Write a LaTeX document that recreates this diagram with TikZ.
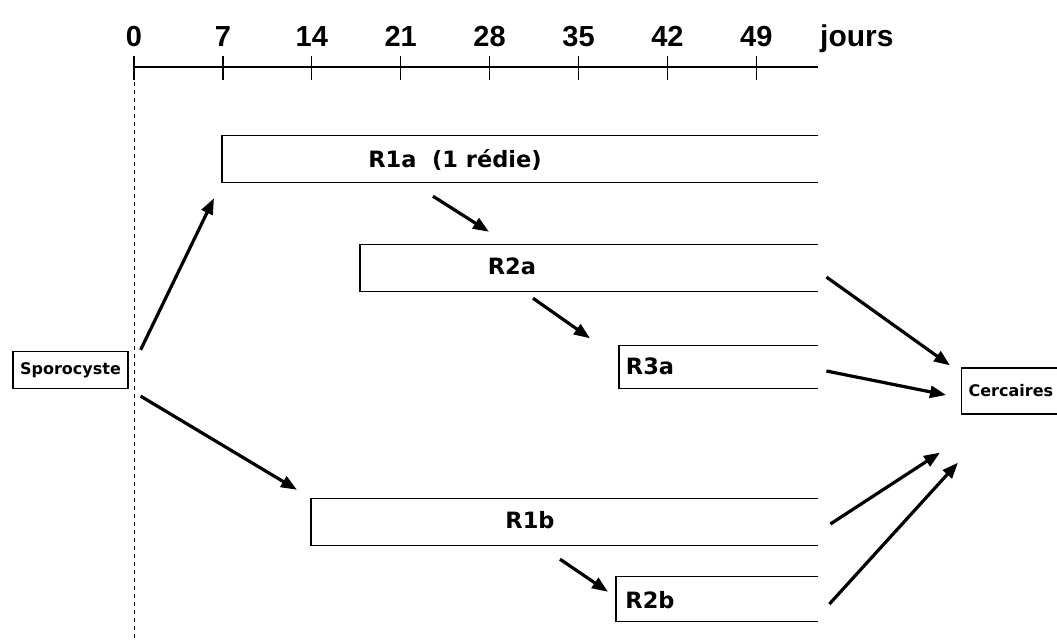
\documentclass[tikz,border=0pt]{standalone}
\usepackage{fontspec}
\setmainfont{Liberation Sans}
\newfontfamily\boxfont{DejaVu Sans}
\usetikzlibrary{positioning,arrows.meta,calc}

\begin{document}
\begin{tikzpicture}[x=1pt,y=-1pt,
  font=\bfseries\fontsize{29}{29}\selectfont,
  bar/.style={minimum height=46pt,inner sep=0pt,anchor=west},
  rlab/.style={font=\boxfont\bfseries\fontsize{22.5}{22.5}\selectfont,inner sep=0pt},
  box/.style={draw,line width=1.2pt,inner sep=0pt,font=\boxfont\bfseries\fontsize{16}{16}\selectfont},
  edge/.style={line width=1.2pt},
  a/.style={-{Triangle[length=16pt,width=12pt]},line width=3.2pt}]
\useasboundingbox (0,0) rectangle (1057,641);
% time axis
\draw[edge] (134,67) -- (818,67);
\foreach \d in {0,7,...,49}{
  \draw[edge] ({134+12.7*\d},56) -- ({134+12.7*\d},80);
  \node[anchor=base,inner sep=0pt] (t\d) at ({134+12.7*\d},46) {\d};}
\node[anchor=base west,inner sep=0pt,font=\bfseries\fontsize{30}{30}\selectfont] (jours) at (820,46) {jours};
\draw[line width=1pt,dash pattern=on 4pt off 4pt] (134,82) -- (134,641);
% redia bars, open on the right
\node[bar,minimum width=596pt] (r1a) at (222,159) {};
\node[bar,minimum width=458pt] (r2a) at (360,268) {};
\node[bar,minimum width=199pt,minimum height=43pt] (r3a) at (619,367) {};
\node[bar,minimum width=507pt] (r1b) at (311,522) {};
\node[bar,minimum width=202pt,minimum height=44pt] (r2b) at (616,599) {};
\foreach \b in {r1a,r2a,r3a,r1b,r2b}
  \draw[edge] (\b.north east) -| (\b.south west) -- (\b.south east);
\node[rlab] (l1a) at (455,160) {R1a\ \ (1 rédie)};
\node[rlab] (l2a) at (512,266) {R2a};
\node[rlab] (l3a) at (650,366) {R3a};
\node[rlab] (l1b) at (530,520) {R1b};
\node[rlab] (l2b) at (650,600) {R2b};
% end boxes
\node[box,minimum width=115pt,minimum height=37pt] (spo) at (70.5,370) {Sporocyste};
\node[box,minimum height=46pt,inner xsep=7pt,anchor=west] (cer) at (961,391) {Cercaires};
% filiation
\draw[a] ($(spo.north east)+(12,-1)$) -- ($(r1a.south west)+(-8,16)$);
\draw[a] ($(spo.south east)+(12,7)$) -- ($(r1b.north west)+(-14,-9)$);
\draw[a] ($(r1a.south west)+(211,14)$) -- ($(r2a.north west)+(129,-13)$);
\draw[a] ($(r2a.south west)+(173,7)$) -- ($(r3a.north west)+(-29,-7)$);
\draw[a] ($(r1b.south west)+(249,14)$) -- ($(r2b.north west)+(-8,15)$);
\draw[a] ($(r2a.east)+(8,9)$) -- ($(cer.north west)+(-11,-2)$);
\draw[a] ($(r3a.east)+(8,4)$) -- ($(cer.west)+(-15,4)$);
\draw[a] ($(r1b.east)+(12,2)$) -- ($(cer.south west)+(-21,38)$);
\draw[a] ($(r2b.east)+(11,5)$) -- ($(cer.south west)+(-3,48)$);
\end{tikzpicture}
\end{document}
